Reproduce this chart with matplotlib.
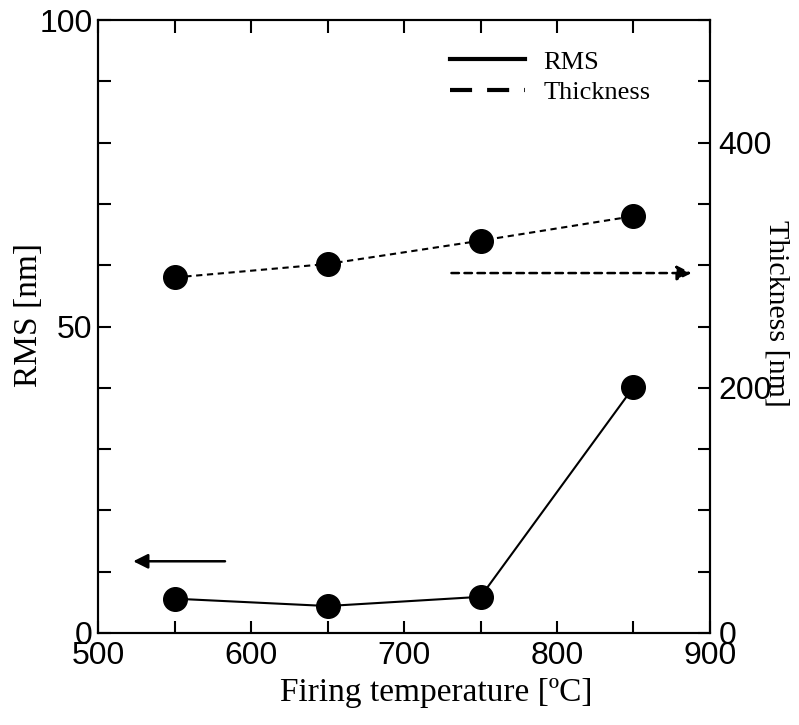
import matplotlib
matplotlib.use("Agg")
import matplotlib.pyplot as plt
from matplotlib.lines import Line2D
from matplotlib.ticker import MultipleLocator

# datos
temps = [550, 650, 750, 850]
rms = [5.6, 4.4, 5.9, 40.1]
thickness = [290, 301, 320, 340]

sans = "Liberation Sans"
serif = "Liberation Serif"

fig = plt.figure(figsize=(7.99, 7.25), dpi=100)
ax = fig.add_axes([0.1227, 0.1269, 0.7659, 0.8455])
ax2 = ax.twinx()

# RMS (eje izquierdo)
ax.plot(temps, rms, color="black", linewidth=1.5, marker="o", markersize=17, zorder=3)
# Espesor (eje derecho)
ax2.plot(temps, thickness, color="black", linewidth=1.5, linestyle=(0, (3, 2.2)),
         marker="o", markersize=17, zorder=3)

ax.set_xlim(500, 900)
ax.set_ylim(0, 100)
ax2.set_ylim(0, 500)

ax.xaxis.set_major_locator(MultipleLocator(100))
ax.xaxis.set_minor_locator(MultipleLocator(50))
ax.yaxis.set_major_locator(MultipleLocator(50))
ax.yaxis.set_minor_locator(MultipleLocator(10))
ax2.yaxis.set_major_locator(MultipleLocator(200))
ax2.yaxis.set_minor_locator(MultipleLocator(50))

for a in (ax, ax2):
    for s in a.spines.values():
        s.set_linewidth(1.5)
ax.tick_params(axis="x", which="both", direction="in", top=True, width=1.5, length=9)
ax.tick_params(axis="x", which="major", pad=6, labelsize=23)
ax.tick_params(axis="y", which="both", direction="in", right=False, width=1.5, length=9)
ax.tick_params(axis="y", which="major", pad=4, labelsize=23)
ax2.tick_params(axis="y", which="both", direction="in", width=1.5, length=9)
ax2.tick_params(axis="y", which="major", pad=6, labelsize=23)
for lab in ax.get_xticklabels() + ax.get_yticklabels() + ax2.get_yticklabels():
    lab.set_fontfamily(sans)

ax.set_xlabel("Firing temperature [ºC]", fontfamily=serif, fontsize=24)
ax.xaxis.set_label_coords(0.552, -0.072)
ax.set_ylabel("RMS [nm]", fontfamily=serif, fontsize=24, va="center", ha="center")
ax.yaxis.set_label_coords(-0.1136, 0.519)
ax2.set_ylabel("Thickness [nm]", fontfamily=serif, fontsize=21.5, rotation=-90,
               va="center", ha="center")
ax2.yaxis.set_label_coords(1.109, 0.521)

# flechas que indican el eje
ax.annotate("", xy=(523, 11.7), xytext=(583, 11.7),
            arrowprops=dict(arrowstyle="-|>", color="black", lw=1.8, mutation_scale=22,
                            shrinkA=0, shrinkB=0))
ax2.annotate("", xy=(888, 293.6), xytext=(731, 293.6),
             arrowprops=dict(arrowstyle="-|>", color="black", lw=1.8, mutation_scale=22,
                             linestyle=(0, (3, 2.2)), shrinkA=0, shrinkB=0))

handles = [Line2D([], [], color="black", linewidth=3),
           Line2D([], [], color="black", linewidth=3, dashes=(5.3, 3.6))]
leg = ax2.legend(handles, ["RMS", "Thickness"], loc="upper left",
                 bbox_to_anchor=(0.575, 0.951), frameon=False, handlelength=2.85,
                 handletextpad=0.68, labelspacing=0.28, borderpad=0, borderaxespad=0,
                 prop={"family": serif, "size": 19})

fig.savefig("out.png", dpi=100)
